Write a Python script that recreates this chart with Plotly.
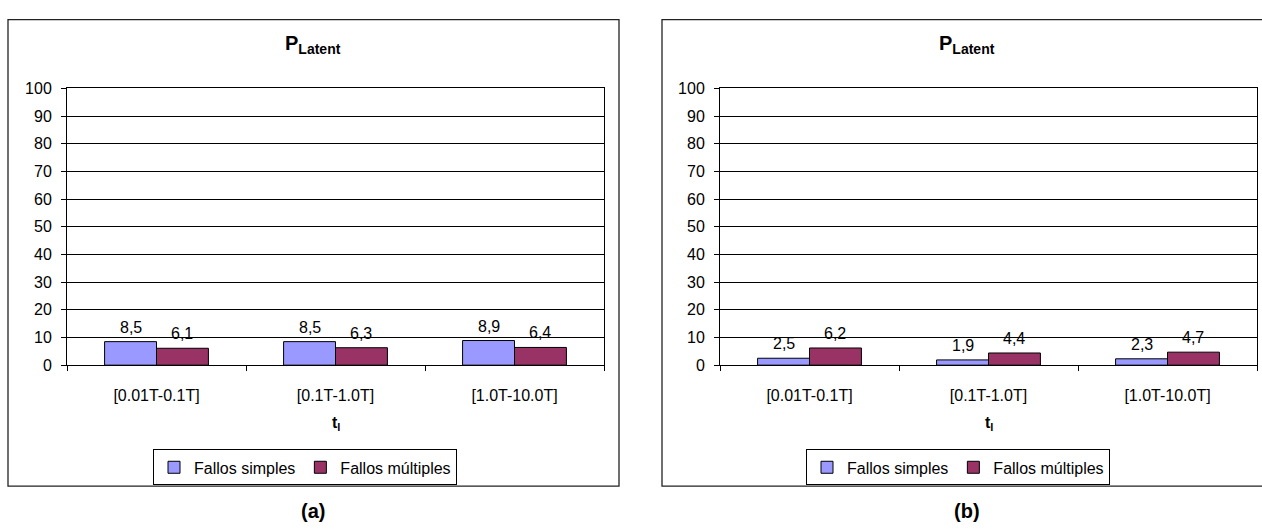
import plotly.graph_objects as go

# ---- data ----
categories = ["[0.01T-0.1T]", "[0.1T-1.0T]", "[1.0T-10.0T]"]
series_names = ["Fallos simples", "Fallos múltiples"]
simples_a = [8.5, 8.5, 8.9]
multiples_a = [6.1, 6.3, 6.4]
simples_b = [2.5, 1.9, 2.3]
multiples_b = [6.2, 4.4, 4.7]
y_ticks = list(range(0, 101, 10))
panel_labels = ["(a)", "(b)"]

# ---- style ----
W, H = 1262, 530
COLOR_SIMPLE = "#9999FF"
COLOR_MULT = "#993366"
FONT = "Arial, Liberation Sans, sans-serif"
FS = 16
BARGAP = 0.42
BAR_OFFSET = (1 - BARGAP) / 4  # centre of each bar relative to category centre


def px(x):
    return x / W


def py(y):
    return 1 - y / H


# panel geometry in pixels
panels = [
    dict(xa="x", ya="y", legend="legend", simples=simples_a, multiples=multiples_a,
         plot=(67, 604), box=(8, 619), title_x=313, legend_x=305, label=panel_labels[0]),
    dict(xa="x2", ya="y2", legend="legend2", simples=simples_b, multiples=multiples_b,
         plot=(720, 1257), box=(662, 1273), title_x=967, legend_x=958, label=panel_labels[1]),
]
PLOT_TOP, PLOT_BOTTOM = 83, 369
BOX_TOP, BOX_BOTTOM = 12, 494

fig = go.Figure()
annotations = []
shapes = []
layout_axes = {}

for k, p in enumerate(panels):
    for name, vals, col, off in [
        (series_names[0], p["simples"], COLOR_SIMPLE, -BAR_OFFSET),
        (series_names[1], p["multiples"], COLOR_MULT, BAR_OFFSET),
    ]:
        fig.add_trace(go.Bar(
            x=categories, y=vals, name=name,
            marker=dict(color=col, line=dict(color="black", width=1)),
            xaxis=p["xa"], yaxis=p["ya"], legend=p["legend"],
            hoverinfo="skip",
        ))
        # value labels above each bar
        for i, v in enumerate(vals):
            annotations.append(dict(
                x=i + off, y=v, xref=p["xa"], yref=p["ya"],
                text=f"{v:.1f}".replace(".", ","), showarrow=False,
                yanchor="bottom", yshift=4,
                font=dict(family=FONT, size=FS, color="black"),
            ))

    x0, x1 = p["plot"]
    bx0, bx1 = p["box"]
    suffix = "" if k == 0 else "2"
    layout_axes["xaxis" + suffix] = dict(
        domain=[px(x0), px(x1)], anchor="y" + suffix, type="category",
        showline=True, linecolor="black", linewidth=1, mirror=True,
        ticks="outside", tickson="boundaries", ticklen=5, tickcolor="black",
        showgrid=False, ticklabelstandoff=16,
        tickfont=dict(family=FONT, size=FS, color="black"),
    )
    layout_axes["yaxis" + suffix] = dict(
        domain=[py(PLOT_BOTTOM), py(PLOT_TOP)], anchor="x" + suffix,
        range=[0, 100], tickvals=y_ticks, showgrid=True, gridcolor="black", gridwidth=1,
        zeroline=False, showline=True, linecolor="black", linewidth=1, mirror=True,
        ticks="outside", ticklen=5, tickcolor="black", ticklabelstandoff=6,
        tickfont=dict(family=FONT, size=FS, color="black"),
    )

    # chart frame
    shapes.append(dict(type="rect", xref="paper", yref="paper",
                       x0=px(bx0), x1=px(bx1), y0=py(BOX_BOTTOM), y1=py(BOX_TOP),
                       line=dict(color="#222222", width=1.3), layer="below"))

    # chart title
    annotations.append(dict(
        x=px(p["title_x"]), y=py(38), xref="paper", yref="paper",
        text="<b>P<sub>Latent</sub></b>", showarrow=False,
        xanchor="center", yanchor="middle",
        font=dict(family=FONT, size=20, color="black"),
    ))
    # category axis title
    annotations.append(dict(
        x=px((x0 + x1) / 2), y=py(429), xref="paper", yref="paper",
        text="<b>t<sub>l</sub></b>", showarrow=False,
        xanchor="center", yanchor="middle",
        font=dict(family=FONT, size=FS, color="black"),
    ))
    # panel label
    annotations.append(dict(
        x=px(p["title_x"]), y=py(520), xref="paper", yref="paper",
        text=f"<b>{p['label']}</b>", showarrow=False,
        xanchor="center", yanchor="middle",
        font=dict(family=FONT, size=20, color="black"),
    ))

legend_style = dict(
    orientation="h", xanchor="center", yanchor="top", y=py(456),
    bordercolor="black", borderwidth=1, bgcolor="white",
    font=dict(family=FONT, size=FS, color="black"), itemwidth=30,
)

fig.update_layout(
    width=W, height=H, margin=dict(l=0, r=0, t=0, b=0),
    paper_bgcolor="white", plot_bgcolor="white",
    barmode="group", bargap=BARGAP, bargroupgap=0,
    legend=dict(x=px(panels[0]["legend_x"]), **legend_style),
    legend2=dict(x=px(panels[1]["legend_x"]), **legend_style),
    annotations=annotations, shapes=shapes,
    font=dict(family=FONT, color="black"),
    **layout_axes,
)

fig.write_html("out.html")
